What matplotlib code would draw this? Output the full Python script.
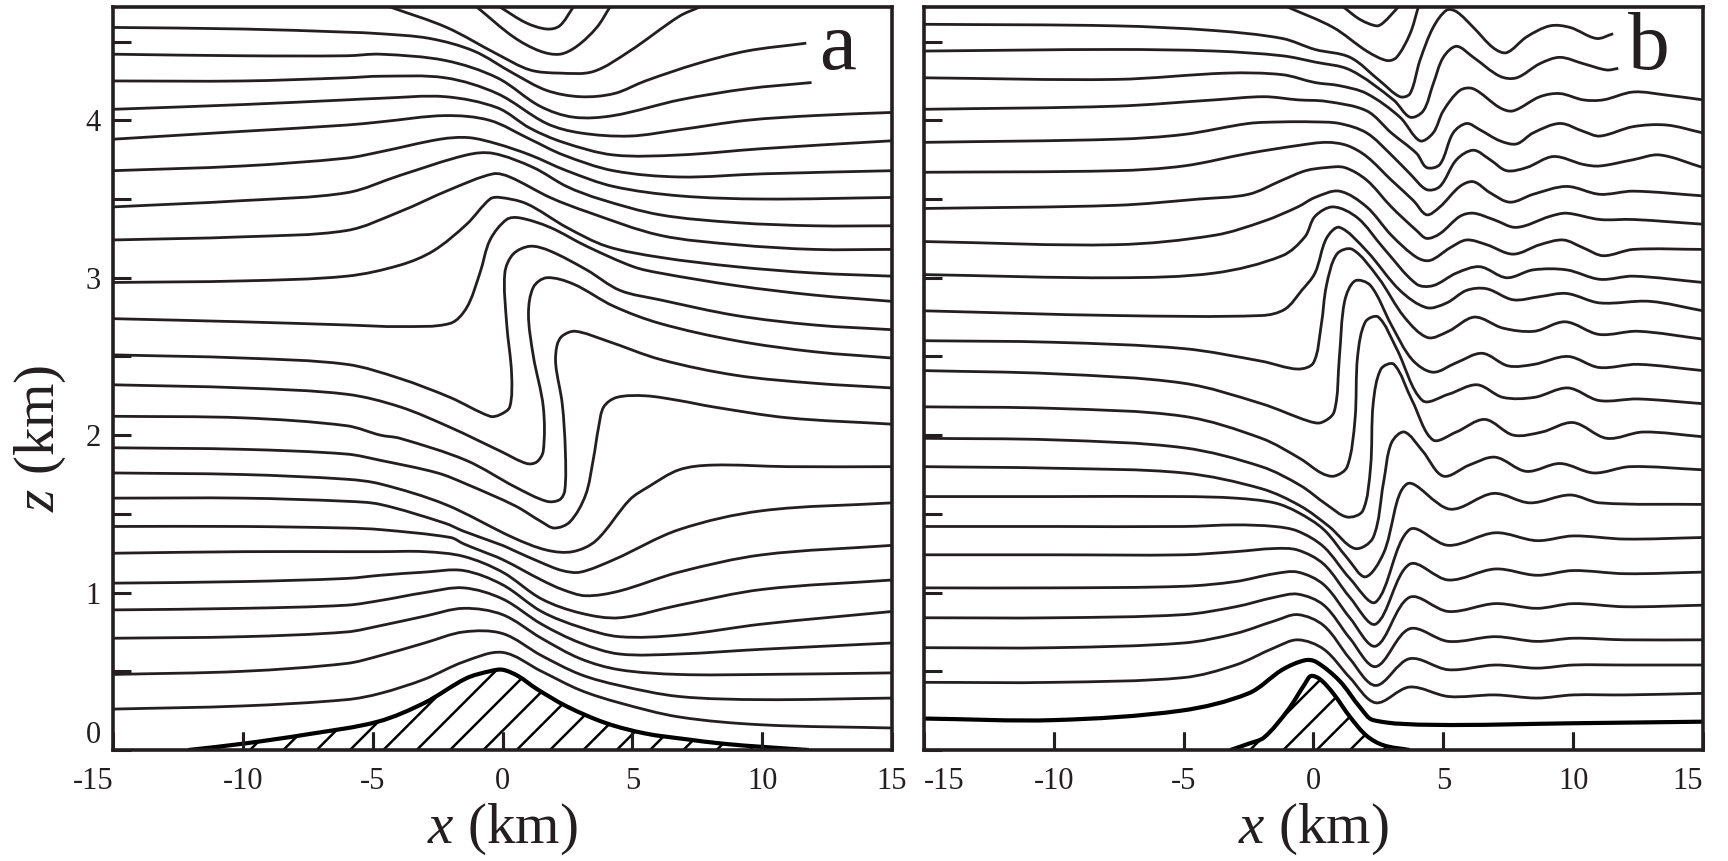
import matplotlib
matplotlib.use("Agg")
import matplotlib.pyplot as plt
from matplotlib import markers
from matplotlib.path import Path
from matplotlib.patches import PathPatch

plt.rcParams['font.family'] = ['Liberation Serif', 'DejaVu Serif']
plt.rcParams['mathtext.fontset'] = 'custom'
plt.rcParams['mathtext.rm'] = 'Liberation Serif'
plt.rcParams['mathtext.it'] = 'Liberation Serif:italic'
plt.rcParams['hatch.linewidth'] = 1.8
plt.rcParams['hatch.color'] = 'black'

INK = '#231f20'

# ---------------- panel a : terrain (km) ----------------
a_ground_x = [-12.1, -10.0, -7.5, -4.8, -3.0, -1.4, -0.5, 0.0, 0.6, 1.3, 2.5, 4.0, 5.5, 7.0, 8.5, 10.0, 11.8]
a_ground_z = [0.0, 0.04, 0.10, 0.18, 0.30, 0.455, 0.50, 0.51, 0.47, 0.39, 0.275, 0.17, 0.105, 0.07, 0.04, 0.02, 0.0]

# panel a streamlines (x km, z km)
xa_low = [-15, -10, -6, -4.7, -3, -1.5, 0, 1.5, 3, 4.5, 6.8, 10, 15]
a01_z = [0.26, 0.28, 0.32, 0.36, 0.45, 0.56, 0.62, 0.50, 0.38, 0.30, 0.21, 0.16, 0.14]
a02_z = [0.48, 0.50, 0.55, 0.60, 0.68, 0.75, 0.74, 0.60, 0.48, 0.41, 0.34, 0.32, 0.33]
a03_z = [0.71, 0.72, 0.75, 0.79, 0.85, 0.90, 0.86, 0.71, 0.58, 0.51, 0.48, 0.48, 0.49]
a04_z = [0.89, 0.90, 0.92, 0.95, 1.00, 1.03, 0.96, 0.80, 0.68, 0.61, 0.61, 0.64, 0.68]
a05_z = [1.06, 1.07, 1.09, 1.11, 1.13, 1.14, 1.05, 0.88, 0.78, 0.72, 0.73, 0.80, 0.88]
a06_z = [1.25, 1.26, 1.26, 1.26, 1.26, 1.23, 1.13, 0.96, 0.87, 0.84, 0.92, 1.02, 1.08]
a07_x = [-15, -10, -6, -4.7, -2, -1.5, -0.9, 0, 1.5, 2.3, 3.2, 4.5, 6.8, 10, 15]
a07_z = [1.42, 1.42, 1.41, 1.40, 1.35, 1.31, 1.27, 1.21, 1.08, 1.02, 0.98, 1.01, 1.13, 1.24, 1.30]
a08_x = [-15, -10, -6, -4.7, -2.2, -1.5, 0, 0.4, 1.5, 2.3, 3.0, 4.3, 6.8, 10, 15]
a08_z = [1.60, 1.60, 1.58, 1.56, 1.44, 1.39, 1.30, 1.27, 1.19, 1.14, 1.13, 1.21, 1.40, 1.52, 1.57]
a09_x = [-15, -10, -6, -4.7, -2.2, 0.4, 1.7, 2.7, 3.6, 4.9, 5.6, 6.8, 8.1, 11, 15]
a09_z = [1.76, 1.75, 1.72, 1.69, 1.56, 1.35, 1.27, 1.26, 1.33, 1.59, 1.67, 1.78, 1.81, 1.80, 1.80]
a10_x = [-15, -10, -6, -4.7, -2.5, -1.4, 0.5, 1.5, 2.0, 2.6, 3.2, 3.5, 3.7, 3.9, 4.4, 5.5, 6.8, 8.1, 11, 15]
a10_z = [1.92, 1.91, 1.88, 1.84, 1.76, 1.69, 1.55, 1.45, 1.41, 1.45, 1.62, 1.85, 2.05, 2.18, 2.24, 2.25, 2.22, 2.18, 2.11, 2.07]
a11_x = [-15, -10, -6, -4.7, -3.95, -1.4, 0.5, 1.7, 2.2, 2.4, 2.42, 2.3, 2.05, 2.1, 2.3, 2.8, 4.0, 6.1, 9, 12, 15]
a11_z = [2.12, 2.11, 2.06, 2.0, 1.98, 1.84, 1.67, 1.58, 1.59, 1.65, 1.90, 2.20, 2.45, 2.57, 2.63, 2.66, 2.60, 2.48, 2.38, 2.33, 2.30]
a12_x = [-15, -10, -6, -3.95, -2.02, -0.1, 0.93, 1.32, 1.57, 1.57, 1.19, 1.0, 1.19, 1.70, 2.73, 4.27, 6.06, 9, 12, 15]
a12_z = [2.32, 2.30, 2.26, 2.18, 2.05, 1.90, 1.82, 1.83, 1.90, 2.18, 2.50, 2.77, 2.94, 3.0, 2.96, 2.82, 2.71, 2.60, 2.53, 2.49]
a13_x = [-15, -10, -6, -3.95, -2.02, -0.48, -0.10, 0.28, 0.35, 0.16, 0.09, 0.41, 1.06, 1.83, 3.24, 4.52, 6.06, 9, 12, 15]
a13_z = [2.51, 2.49, 2.45, 2.36, 2.24, 2.12, 2.13, 2.18, 2.39, 2.71, 3.03, 3.15, 3.20, 3.17, 3.05, 2.92, 2.86, 2.76, 2.70, 2.67]
a14_x = [-15, -10, -6, -3.95, -2.02, -1.38, -0.87, -0.48, 0.16, 0.67, 1.83, 3.24, 5.04, 6.06, 9, 12, 15]
a14_z = [2.74, 2.72, 2.70, 2.69, 2.71, 2.81, 3.03, 3.24, 3.37, 3.38, 3.32, 3.20, 3.07, 3.03, 2.95, 2.89, 2.85]
a15_x = [-15, -10, -6, -3.95, -2.67, -1.38, -0.48, -0.10, 0.93, 2.47, 4.01, 6.06, 9, 12, 15]
a15_z = [2.97, 2.98, 3.01, 3.08, 3.17, 3.34, 3.50, 3.51, 3.47, 3.32, 3.20, 3.13, 3.07, 3.03, 3.01]
a16_x = [-15, -10, -6, -3.95, -2.02, -0.36, 0.28, 1.83, 3.24, 6.06, 9, 12, 15]
a16_z = [3.24, 3.26, 3.30, 3.42, 3.56, 3.66, 3.64, 3.51, 3.42, 3.27, 3.21, 3.18, 3.18]
a17_x = [-15, -10, -6, -3.95, -1.38, -0.36, 1.19, 2.47, 3.75, 6.06, 9, 12, 15]
a17_z = [3.45, 3.49, 3.54, 3.65, 3.78, 3.79, 3.70, 3.58, 3.50, 3.40, 3.35, 3.33, 3.33]
a18_x = [-15, -10, -6, -4.7, -2.4, -1.3, -0.2, 1.06, 2.47, 4.27, 6.83, 10, 15]
a18_z = [3.68, 3.71, 3.76, 3.80, 3.88, 3.89, 3.85, 3.78, 3.68, 3.58, 3.52, 3.50, 3.51]
a19_x = [-15, -10, -6, -4.7, -2.2, -0.5, 1.06, 2.34, 4.27, 6.83, 10, 15]
a19_z = [3.88, 3.93, 3.97, 3.99, 4.03, 4.0, 3.88, 3.78, 3.68, 3.64, 3.66, 3.68]
a20_x = [-15, -10, -6, -4.7, -2.2, -0.2, 1.06, 2.34, 4.27, 6.83, 10, 15]
a20_z = [4.07, 4.10, 4.13, 4.14, 4.15, 4.08, 3.95, 3.86, 3.78, 3.78, 3.82, 3.87]
a21_x = [-15, -10, -6, -4.7, -2.2, -0.2, 1.7, 3.0, 4.9, 6.8, 9.4, 12, 15]
a21_z = [4.25, 4.25, 4.27, 4.28, 4.27, 4.17, 3.98, 3.92, 3.90, 3.94, 4.0, 4.03, 4.05]
a22_x = [-15, -10, -6, -4.7, -2.2, -0.2, 1.44, 2.73, 4.27, 6.83, 9.4, 11.9]
a22_z = [4.42, 4.41, 4.41, 4.42, 4.38, 4.27, 4.09, 4.02, 4.03, 4.13, 4.20, 4.24]
a23_x = [-15, -10, -6, -4.7, -2.8, -1.1, 0.4, 1.7, 3.0, 4.3, 5.5, 7.5, 9.4, 11.7]
a23_z = [4.59, 4.58, 4.56, 4.55, 4.52, 4.44, 4.30, 4.19, 4.15, 4.17, 4.25, 4.36, 4.44, 4.49]
# lines that leave and re-enter through the top
aT3_x = [-4.33, -2.15, -0.2, 1.06, 2.2, 3.5, 4.9, 6.8, 7.6]
aT3_z = [4.72, 4.59, 4.42, 4.32, 4.30, 4.31, 4.44, 4.66, 4.72]
aT2_x = [-0.99, 0.42, 1.44, 2.21, 2.86, 3.63, 4.14]
aT2_z = [4.72, 4.53, 4.44, 4.42, 4.47, 4.59, 4.72]
aT1_x = [-0.1, 0.9, 1.7, 2.2, 2.73]
aT1_z = [4.72, 4.62, 4.58, 4.60, 4.72]

# ---------------- panel b : terrain (km) ----------------
b_ground_x = [-3.2, -2.5, -1.9, -1.0, -0.33, -0.1, 0.25, 0.76, 1.41, 2.05, 2.7, 3.7]
b_ground_z = [0.0, 0.04, 0.08, 0.25, 0.42, 0.47, 0.45, 0.36, 0.21, 0.09, 0.03, 0.0]

b01_x = [-15, -10, -5.1, -2.5, -1.2, -0.33, 0.1, 1.0, 1.8, 2.3, 4.6, 10, 15]
b01_z = [0.20, 0.19, 0.25, 0.36, 0.51, 0.57, 0.56, 0.44, 0.27, 0.19, 0.16, 0.17, 0.18]
xb_low = [-15, -10, -5, -3, -1.5, -0.6, 0.4, 1.4, 2.4, 3.7, 5.2, 7, 8.6, 10, 12, 15]
b02_z = [0.43, 0.43, 0.46, 0.54, 0.65, 0.70, 0.64, 0.46, 0.30, 0.40, 0.34, 0.35, 0.33, 0.35, 0.35, 0.36]
b03_z = [0.65, 0.65, 0.68, 0.74, 0.82, 0.86, 0.79, 0.58, 0.41, 0.58, 0.51, 0.54, 0.52, 0.54, 0.54, 0.54]
b04_z = [0.84, 0.84, 0.86, 0.91, 0.97, 0.99, 0.92, 0.71, 0.53, 0.77, 0.69, 0.72, 0.69, 0.71, 0.70, 0.70]
b05_z = [1.03, 1.03, 1.04, 1.07, 1.12, 1.13, 1.05, 0.84, 0.66, 0.97, 0.88, 0.93, 0.90, 0.93, 0.91, 0.92]
b06_z = [1.24, 1.24, 1.24, 1.26, 1.28, 1.27, 1.18, 0.97, 0.80, 1.18, 1.08, 1.15, 1.11, 1.14, 1.12, 1.13]
b07_z = [1.42, 1.42, 1.42, 1.43, 1.42, 1.39, 1.29, 1.09, 0.94, 1.40, 1.30, 1.38, 1.33, 1.36, 1.34, 1.35]
b08_x = [-15, -10, -5, -3, -1.5, -0.6, 0.4, 1.3, 2.0, 2.7, 3.6, 5.26, 6.93, 8.34, 9.88, 11.03, 15]
b08_z = [1.61, 1.61, 1.61, 1.60, 1.57, 1.51, 1.40, 1.22, 1.10, 1.25, 1.69, 1.53, 1.63, 1.57, 1.62, 1.57, 1.56]
b09_x = [-15, -10, -5, -2, -0.5, 0.6, 1.6, 2.3, 2.7, 3.0, 3.5, 4.2, 5.0, 6.0, 7.0, 8.2, 9.5, 10.8, 12.2, 15]
b09_z = [1.80, 1.79, 1.76, 1.66, 1.55, 1.42, 1.28, 1.35, 1.70, 1.95, 2.02, 1.90, 1.74, 1.81, 1.86, 1.77, 1.82, 1.76, 1.80, 1.78]
b10_x = [-15, -10, -5, -2, -0.5, 0.5, 1.3, 1.9, 2.2, 2.3, 2.6, 3.1, 3.8, 4.6, 5.5, 6.6, 7.7, 8.8, 10, 11.3, 12.7, 15]
b10_z = [1.98, 1.97, 1.92, 1.80, 1.68, 1.56, 1.48, 1.52, 1.80, 2.20, 2.42, 2.45, 2.22, 1.97, 2.02, 2.10, 2.00, 2.02, 2.08, 1.98, 2.02, 1.99]
b11_x = [-15, -10, -5, -2, -0.5, 0.3, 0.8, 1.3, 1.6, 1.7, 2.0, 2.5, 3.2, 4.2, 5.2, 6.3, 7.3, 8.5, 9.8, 11, 12.5, 15]
b11_z = [2.18, 2.17, 2.12, 1.98, 1.85, 1.76, 1.74, 1.80, 2.1, 2.5, 2.72, 2.75, 2.55, 2.22, 2.26, 2.32, 2.24, 2.24, 2.30, 2.22, 2.23, 2.20]
b12_x = [-15, -10, -5, -2, -0.2, 0.3, 0.8, 1.0, 1.2, 1.6, 2.2, 3.0, 3.8, 4.6, 5.5, 6.5, 7.5, 8.5, 9.8, 11, 12.5, 15]
b12_z = [2.41, 2.39, 2.33, 2.20, 2.09, 2.08, 2.15, 2.5, 2.85, 2.98, 2.95, 2.70, 2.48, 2.40, 2.46, 2.52, 2.44, 2.45, 2.50, 2.43, 2.45, 2.41]
b13_x = [-15, -10, -5, -2, -0.6, 0.0, 0.3, 0.5, 0.9, 1.5, 2.5, 3.5, 4.4, 5.2, 6.2, 7.3, 8.5, 9.7, 11, 12.5, 15]
b13_z = [2.60, 2.59, 2.55, 2.47, 2.42, 2.46, 2.7, 2.95, 3.15, 3.18, 3.0, 2.75, 2.62, 2.66, 2.75, 2.68, 2.66, 2.72, 2.64, 2.66, 2.61]
b14_x = [-15, -7.6, -2, -1.1, -0.45, 0.06, 0.5, 1.0, 2.05, 3.33, 4.36, 5.13, 5.9, 6.67, 7.69, 8.72, 9.75, 11.03, 12.96, 15]
b14_z = [2.79, 2.76, 2.76, 2.80, 2.92, 3.03, 3.25, 3.32, 3.17, 2.92, 2.81, 2.84, 2.92, 2.93, 2.86, 2.88, 2.90, 2.84, 2.85, 2.79]
b15_x = [-15, -7.6, -3.8, -1.2, -0.33, 0.06, 0.76, 1.7, 2.69, 3.97, 4.61, 5.51, 6.41, 7.44, 8.46, 9.75, 11.03, 12.32, 15]
b15_z = [3.02, 3.00, 3.03, 3.14, 3.26, 3.39, 3.45, 3.38, 3.19, 2.96, 2.95, 3.03, 3.07, 3.00, 3.05, 3.05, 2.99, 3.01, 2.97]
b16_x = [-15, -7.6, -3.8, -1.9, -0.6, 0.06, 1.0, 2.05, 3.0, 3.97, 4.49, 5.26, 5.9, 6.67, 7.69, 8.72, 9.62, 10.39, 11.16, 12.32, 15]
b16_z = [3.23, 3.21, 3.27, 3.36, 3.45, 3.51, 3.55, 3.45, 3.27, 3.13, 3.11, 3.19, 3.24, 3.21, 3.15, 3.21, 3.24, 3.19, 3.14, 3.18, 3.18]
b17_x = [-15, -7.6, -4.4, -2.5, -1.2, -0.3, 0.5, 1.2, 2.05, 3.0, 3.97, 4.36, 4.87, 5.64, 6.16, 6.93, 7.82, 9.11, 9.75, 11.03, 12.32, 15]
b17_z = [3.44, 3.46, 3.50, 3.53, 3.62, 3.68, 3.70, 3.70, 3.62, 3.45, 3.30, 3.25, 3.28, 3.39, 3.41, 3.37, 3.32, 3.39, 3.41, 3.37, 3.37, 3.34]
b18_x = [-15, -7.6, -5, -2.5, -0.6, 0.5, 1.3, 2.05, 3.0, 3.85, 4.36, 4.87, 5.64, 6.16, 6.8, 7.57, 8.46, 9.75, 11.03, 12.32, 15]
b18_z = [3.67, 3.68, 3.71, 3.79, 3.84, 3.86, 3.84, 3.77, 3.62, 3.49, 3.40, 3.45, 3.58, 3.61, 3.54, 3.48, 3.53, 3.58, 3.53, 3.55, 3.52]
b19_x = [-15, -7.6, -5, -2.5, -1.2, 0.0, 1.0, 2.05, 3.0, 3.72, 4.36, 4.87, 5.51, 6.16, 6.8, 7.44, 8.21, 9.24, 10.39, 11.03, 12.32, 13.34, 15]
b19_z = [3.86, 3.88, 3.91, 3.98, 3.99, 3.99, 3.98, 3.92, 3.78, 3.66, 3.56, 3.58, 3.75, 3.81, 3.75, 3.68, 3.70, 3.77, 3.72, 3.71, 3.75, 3.78, 3.70]
b20_x = [-15, -7.6, -3.8, -1.9, -0.6, 0.5, 2.05, 3.0, 3.97, 4.36, 4.87, 5.38, 5.90, 6.41, 7.18, 7.82, 8.46, 9.49, 10.39, 11.03, 12.32, 13.6, 15]
b20_z = [4.07, 4.09, 4.13, 4.15, 4.13, 4.12, 4.06, 3.92, 3.79, 3.70, 3.72, 3.92, 3.98, 3.94, 3.87, 3.85, 3.92, 3.98, 3.93, 3.90, 3.96, 3.97, 3.92]
b21_x = [-15, -7.6, -3.3, -1.2, 0.06, 1.0, 2.05, 3.33, 4.10, 4.61, 5.0, 5.64, 6.16, 7.18, 7.69, 8.72, 9.49, 10.39, 11.16, 12.32, 13.6, 15]
b21_z = [4.27, 4.26, 4.30, 4.29, 4.24, 4.22, 4.17, 4.02, 3.87, 3.92, 4.06, 4.19, 4.20, 4.08, 4.06, 4.15, 4.17, 4.13, 4.13, 4.18, 4.16, 4.13]
b22_x = [-15, -7.6, -3.8, -1.2, 0.06, 1.41, 3.08, 3.72, 4.23, 4.61, 5.0, 5.51, 6.16, 7.18, 7.82, 8.72, 9.49, 10.39, 11.29, 11.74]
b22_z = [4.44, 4.45, 4.44, 4.41, 4.37, 4.32, 4.13, 4.02, 4.06, 4.23, 4.40, 4.47, 4.40, 4.28, 4.27, 4.36, 4.40, 4.36, 4.32, 4.33]
b23_x = [-15, -7.6, -3.8, -1.2, 0.06, 1.41, 2.56, 3.33, 3.72, 4.10, 4.61, 5.13, 5.51, 6.16, 6.93, 7.44, 8.21, 9.11, 9.88, 10.9, 11.54]
b23_z = [4.61, 4.60, 4.57, 4.52, 4.45, 4.40, 4.25, 4.15, 4.17, 4.38, 4.59, 4.70, 4.69, 4.59, 4.46, 4.43, 4.53, 4.60, 4.59, 4.52, 4.55]
bT2_x = [-1.0, 0.76, 2.05, 2.82, 3.20, 3.72, 4.04]
bT2_z = [4.72, 4.59, 4.44, 4.38, 4.40, 4.55, 4.72]
bT1_x = [1.15, 1.8, 2.43, 2.69, 3.27]
bT1_z = [4.72, 4.64, 4.60, 4.62, 4.72]

lines_a = [(xa_low, a01_z), (xa_low, a02_z), (xa_low, a03_z), (xa_low, a04_z),
           (xa_low, a05_z), (xa_low, a06_z), (a07_x, a07_z), (a08_x, a08_z),
           (a09_x, a09_z), (a10_x, a10_z), (a11_x, a11_z), (a12_x, a12_z),
           (a13_x, a13_z), (a14_x, a14_z), (a15_x, a15_z), (a16_x, a16_z),
           (a17_x, a17_z), (a18_x, a18_z), (a19_x, a19_z), (a20_x, a20_z),
           (a21_x, a21_z), (a22_x, a22_z), (a23_x, a23_z),
           (aT3_x, aT3_z), (aT2_x, aT2_z), (aT1_x, aT1_z)]
lines_b = [(xb_low, b02_z), (xb_low, b03_z), (xb_low, b04_z), (xb_low, b05_z),
           (xb_low, b06_z), (xb_low, b07_z), (b08_x, b08_z), (b09_x, b09_z),
           (b10_x, b10_z), (b11_x, b11_z), (b12_x, b12_z), (b13_x, b13_z),
           (b14_x, b14_z), (b15_x, b15_z), (b16_x, b16_z), (b17_x, b17_z),
           (b18_x, b18_z), (b19_x, b19_z), (b20_x, b20_z), (b21_x, b21_z),
           (b22_x, b22_z), (b23_x, b23_z), (bT2_x, bT2_z), (bT1_x, bT1_z)]

x_ticks = [-15, -10, -5, 0, 5, 10, 15]
z_ticks = [0, 0.5, 1, 1.5, 2, 2.5, 3, 3.5, 4, 4.5]
z_labels = ['0', '', '1', '', '2', '', '3', '', '4', '']


def smooth_line(ax, xs, zs, lw=2.0, color=INK):
    # draw the read points as one smooth curve (cubic Bezier through every point)
    sx, sz = 26.0, 157.5   # rough pixel per km, only to weigh the tangents
    n = len(xs)
    d = [((xs[i + 1] - xs[i]) * sx) ** 2 + ((zs[i + 1] - zs[i]) * sz) ** 2 for i in range(n - 1)]
    d = [v ** 0.5 + 1e-9 for v in d]
    tx, tz = [], []
    for i in range(n):
        if i == 0:
            tx.append((xs[1] - xs[0]) / d[0]); tz.append((zs[1] - zs[0]) / d[0])
        elif i == n - 1:
            tx.append((xs[-1] - xs[-2]) / d[-1]); tz.append((zs[-1] - zs[-2]) / d[-1])
        else:
            s = d[i - 1] + d[i]
            tx.append((xs[i + 1] - xs[i - 1]) / s); tz.append((zs[i + 1] - zs[i - 1]) / s)
    verts = [(xs[0], zs[0])]
    codes = [Path.MOVETO]
    for i in range(n - 1):
        h = d[i] / 3.0
        verts.append((xs[i] + tx[i] * h, zs[i] + tz[i] * h))
        verts.append((xs[i + 1] - tx[i + 1] * h, zs[i + 1] - tz[i + 1] * h))
        verts.append((xs[i + 1], zs[i + 1]))
        codes += [Path.CURVE4] * 3
    ax.add_patch(PathPatch(Path(verts, codes), fill=False, lw=lw, edgecolor=color,
                           capstyle='butt', joinstyle='round', zorder=2))


fig = plt.figure(figsize=(17.28, 8.61), dpi=100)
ax_a = fig.add_axes([0.0654, 0.1289, 0.4508, 0.863])
ax_b = fig.add_axes([0.5347, 0.1289, 0.4508, 0.863])


def setup(ax, letter, show_ylabels):
    ax.set_xlim(-15, 15)
    ax.set_ylim(0, 4.72)
    for s in ax.spines.values():
        s.set_linewidth(2.6)
        s.set_color(INK)
        s.set_zorder(4)
    ax.set_xticks(x_ticks)
    ax.set_xticklabels([str(t) for t in x_ticks])
    ax.set_yticks(z_ticks)
    if show_ylabels:
        ax.set_yticklabels(z_labels)
        ax.set_ylabel(r'$z$ (km)', fontsize=41, color=INK)
        ax.yaxis.set_label_coords(-0.058, 0.42)
    else:
        ax.set_yticklabels([])
    ax.tick_params(direction='in', length=13, width=2.2, labelsize=22,
                   color=INK, labelcolor=INK, top=False, right=False)
    ax.tick_params(axis='x', pad=12)
    ax.tick_params(axis='y', pad=9)
    # short inward marks at the x tick positions, standing on the bottom frame
    ax.plot(x_ticks[1:-1], [0] * (len(x_ticks) - 2), linestyle='none',
            marker=markers.TICKUP, markersize=13, markeredgewidth=2.2, color=INK,
            transform=ax.get_xaxis_transform(), clip_on=False, zorder=5)
    ax.set_xlabel(r'$x$ (km)', fontsize=41, color=INK)
    ax.xaxis.set_label_coords(0.5, -0.07)
    ax.text(12.9, 4.45, letter, fontsize=60, ha='center', va='center', color=INK)


# panel a
ax_a.fill_between(a_ground_x, 0, a_ground_z, facecolor='white', edgecolor='black',
                  hatch='/', linewidth=0, zorder=1)
smooth_line(ax_a, a_ground_x, a_ground_z, lw=3.0, color='black')
for xs, zs in lines_a:
    smooth_line(ax_a, xs, zs)
setup(ax_a, 'a', True)
ax_a.get_xticklabels()[0].set_horizontalalignment('right')
ax_a.get_yticklabels()[0].set_verticalalignment('bottom')

# panel b
ax_b.fill_between(b_ground_x, 0, b_ground_z, facecolor='white', edgecolor='black',
                  hatch='/', linewidth=0, zorder=1)
smooth_line(ax_b, b_ground_x, b_ground_z, lw=3.0, color='black')
smooth_line(ax_b, b01_x, b01_z, lw=3.0, color='black')
for xs, zs in lines_b:
    smooth_line(ax_b, xs, zs)
setup(ax_b, 'b', False)
ax_b.get_xticklabels()[0].set_horizontalalignment('left')
ax_b.get_xticklabels()[-1].set_horizontalalignment('right')

fig.savefig('out.png', dpi=100)
